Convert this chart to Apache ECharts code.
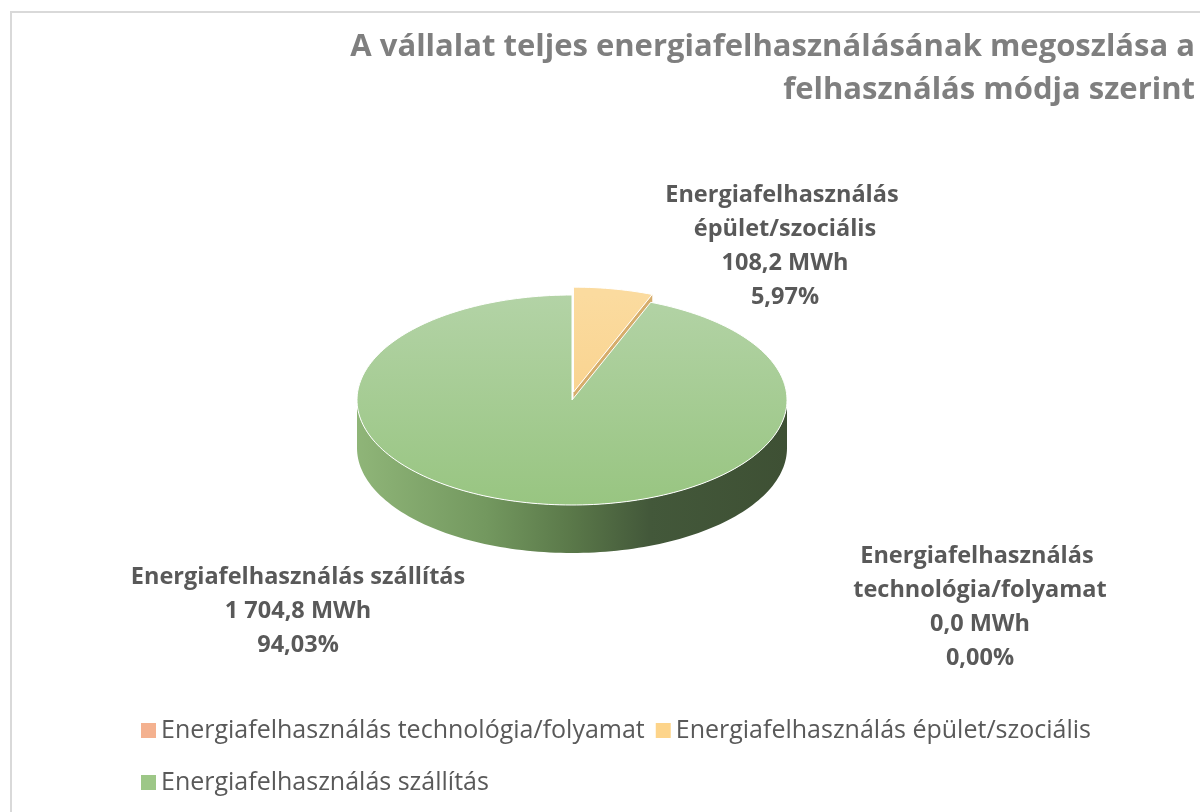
<!DOCTYPE html>
<html>
<head>
<meta charset="utf-8">
<script src="https://cdn.jsdelivr.net/npm/echarts@6/dist/echarts.min.js"></script>
<style>
html,body{margin:0;padding:0;background:#fff;}
#chart{width:1200px;height:812px;}
</style>
</head>
<body>
<div id="chart"></div>
<script>
// ---- data ----
const titleText = 'A vállalat teljes energiafelhasználásának megoszlása a\nfelhasználás módja szerint';
const categories = [
  'Energiafelhasználás technológia/folyamat',
  'Energiafelhasználás épület/szociális',
  'Energiafelhasználás szállítás'
];
const values = [0.0, 108.2, 1704.8];
const unit = 'MWh';

// ---- styles / layout (not data) ----
const legendColors = ['#f4b18f', '#fdd48a', '#9dc787'];
const topColors = [['#f6b999', '#f2a884'], ['#fbdb9f', '#f8cc80'], ['#b3d3a6', '#98c581']];
const wallColors = ['#c98a6c', '#d6ad6c', null];
const explode = [0, 8, 0];
const labelLayout = [
  {x: 980, y: 539, w: 320},
  {x: 785, y: 178, w: 270},
  {x: 298, y: 560, w: 460}
];
const PIE = {cx: 572, cy: 400, rx: 215, ry: 105, depth: 48};
const FONT = '"Open Sans", "Noto Sans", sans-serif';

const total = values.reduce((a, b) => a + b, 0);

function fmtNum(v) {
  const s = v.toFixed(1).split('.');
  return s[0].replace(/\B(?=(\d{3})+(?!\d))/g, ' ') + ',' + s[1];
}
function fmtPct(v) {
  return (v / total * 100).toFixed(2).replace('.', ',') + '%';
}
function pt(theta, ox, oy, dy) {
  const r = theta * Math.PI / 180;
  return [PIE.cx + ox + PIE.rx * Math.sin(r), PIE.cy + oy - PIE.ry * Math.cos(r) + (dy || 0)];
}
function arc(a, b, ox, oy, dy) {
  const pts = [];
  const n = Math.max(2, Math.ceil(Math.abs(b - a) / 1.5));
  for (let i = 0; i <= n; i++) pts.push(pt(a + (b - a) * i / n, ox, oy, dy));
  return pts;
}

const sideGrad = {
  type: 'linear', x: PIE.cx - PIE.rx, y: 0, x2: PIE.cx + PIE.rx, y2: 0, global: true,
  colorStops: [
    {offset: 0, color: '#8fb578'},
    {offset: 0.3, color: '#73985f'},
    {offset: 0.5, color: '#5a7849'},
    {offset: 0.68, color: '#43583a'},
    {offset: 1, color: '#3e5034'}
  ]
};

function makeRender(idx) {
  return function (params, api) {
    const v = api.value(0);
    let start = 0;
    for (let i = 0; i < idx; i++) start += values[i];
    const a = start / total * 360;
    const b = (start + v) / total * 360;
    const mid = (a + b) / 2 * Math.PI / 180;
    const ox = explode[idx] * Math.sin(mid);
    const oy = -explode[idx] * Math.cos(mid);
    const children = [];
    if (b - a > 0) {
      const s = Math.max(a, 90), e = Math.min(b, 270);
      if (e > s) {
        const top = arc(s, e, ox, oy, 0);
        const bot = arc(e, s, ox, oy, PIE.depth);
        children.push({
          type: 'polygon', z2: 1,
          shape: {points: top.concat(bot)},
          style: {fill: wallColors[idx] || sideGrad}
        });
      }
      const c = [PIE.cx + ox, PIE.cy + oy];
      if (b > 0 && b < 180) {
        const p = pt(b, ox, oy, 0);
        children.push({
          type: 'polygon', z2: 1,
          shape: {points: [c, p, [p[0], p[1] + PIE.depth], [c[0], c[1] + PIE.depth]]},
          style: {fill: wallColors[idx] || '#4a6340'}
        });
      }
      children.push({
        type: 'polygon', z2: 5,
        shape: {points: [c].concat(arc(a, b, ox, oy, 0))},
        style: {
          fill: {
            type: 'linear', x: 0, y: PIE.cy - PIE.ry, x2: 0, y2: PIE.cy + PIE.ry, global: true,
            colorStops: [{offset: 0, color: topColors[idx][0]}, {offset: 1, color: topColors[idx][1]}]
          },
          stroke: '#ffffff', lineWidth: 1, lineJoin: 'round'
        }
      });
    }
    const L = labelLayout[idx];
    children.push({
      type: 'text', z2: 10,
      x: L.x, y: L.y,
      style: {
        text: categories[idx] + '\n' + fmtNum(v) + ' ' + unit + '\n' + fmtPct(v),
        fill: '#595959',
        fontFamily: FONT, fontSize: 23.5, fontWeight: 'bold',
        lineHeight: 34, align: 'center', verticalAlign: 'top',
        width: L.w, overflow: 'break'
      }
    });
    return {type: 'group', children: children};
  };
}

const chart = echarts.init(document.getElementById('chart'), null, {renderer: 'canvas'});
chart.setOption({
  animation: false,
  color: legendColors,
  legend: {
    left: 136, top: 705, width: 1040,
    icon: 'rect', itemWidth: 15, itemHeight: 15, itemGap: 11,
    textStyle: {fontFamily: FONT, fontSize: 25, color: '#595959', lineHeight: 41},
    data: categories
  },
  graphic: [
    {type: 'line', shape: {x1: 11, y1: 12, x2: 11, y2: 812}, style: {stroke: '#d9d9d9', lineWidth: 2}},
    {type: 'line', shape: {x1: 10, y1: 12, x2: 1200, y2: 12}, style: {stroke: '#d9d9d9', lineWidth: 2}},
    {
      type: 'text', x: 1195, y: 26,
      style: {
        text: titleText, align: 'right', verticalAlign: 'top',
        fontFamily: FONT, fontSize: 31, fontWeight: 'bold', fill: '#7f7f7f', lineHeight: 43
      }
    }
  ],
  series: categories.map((name, i) => ({
    type: 'custom',
    name: name,
    coordinateSystem: 'none',
    itemStyle: {color: legendColors[i]},
    renderItem: makeRender(i),
    data: [[values[i]]]
  }))
});
</script>
</body>
</html>
